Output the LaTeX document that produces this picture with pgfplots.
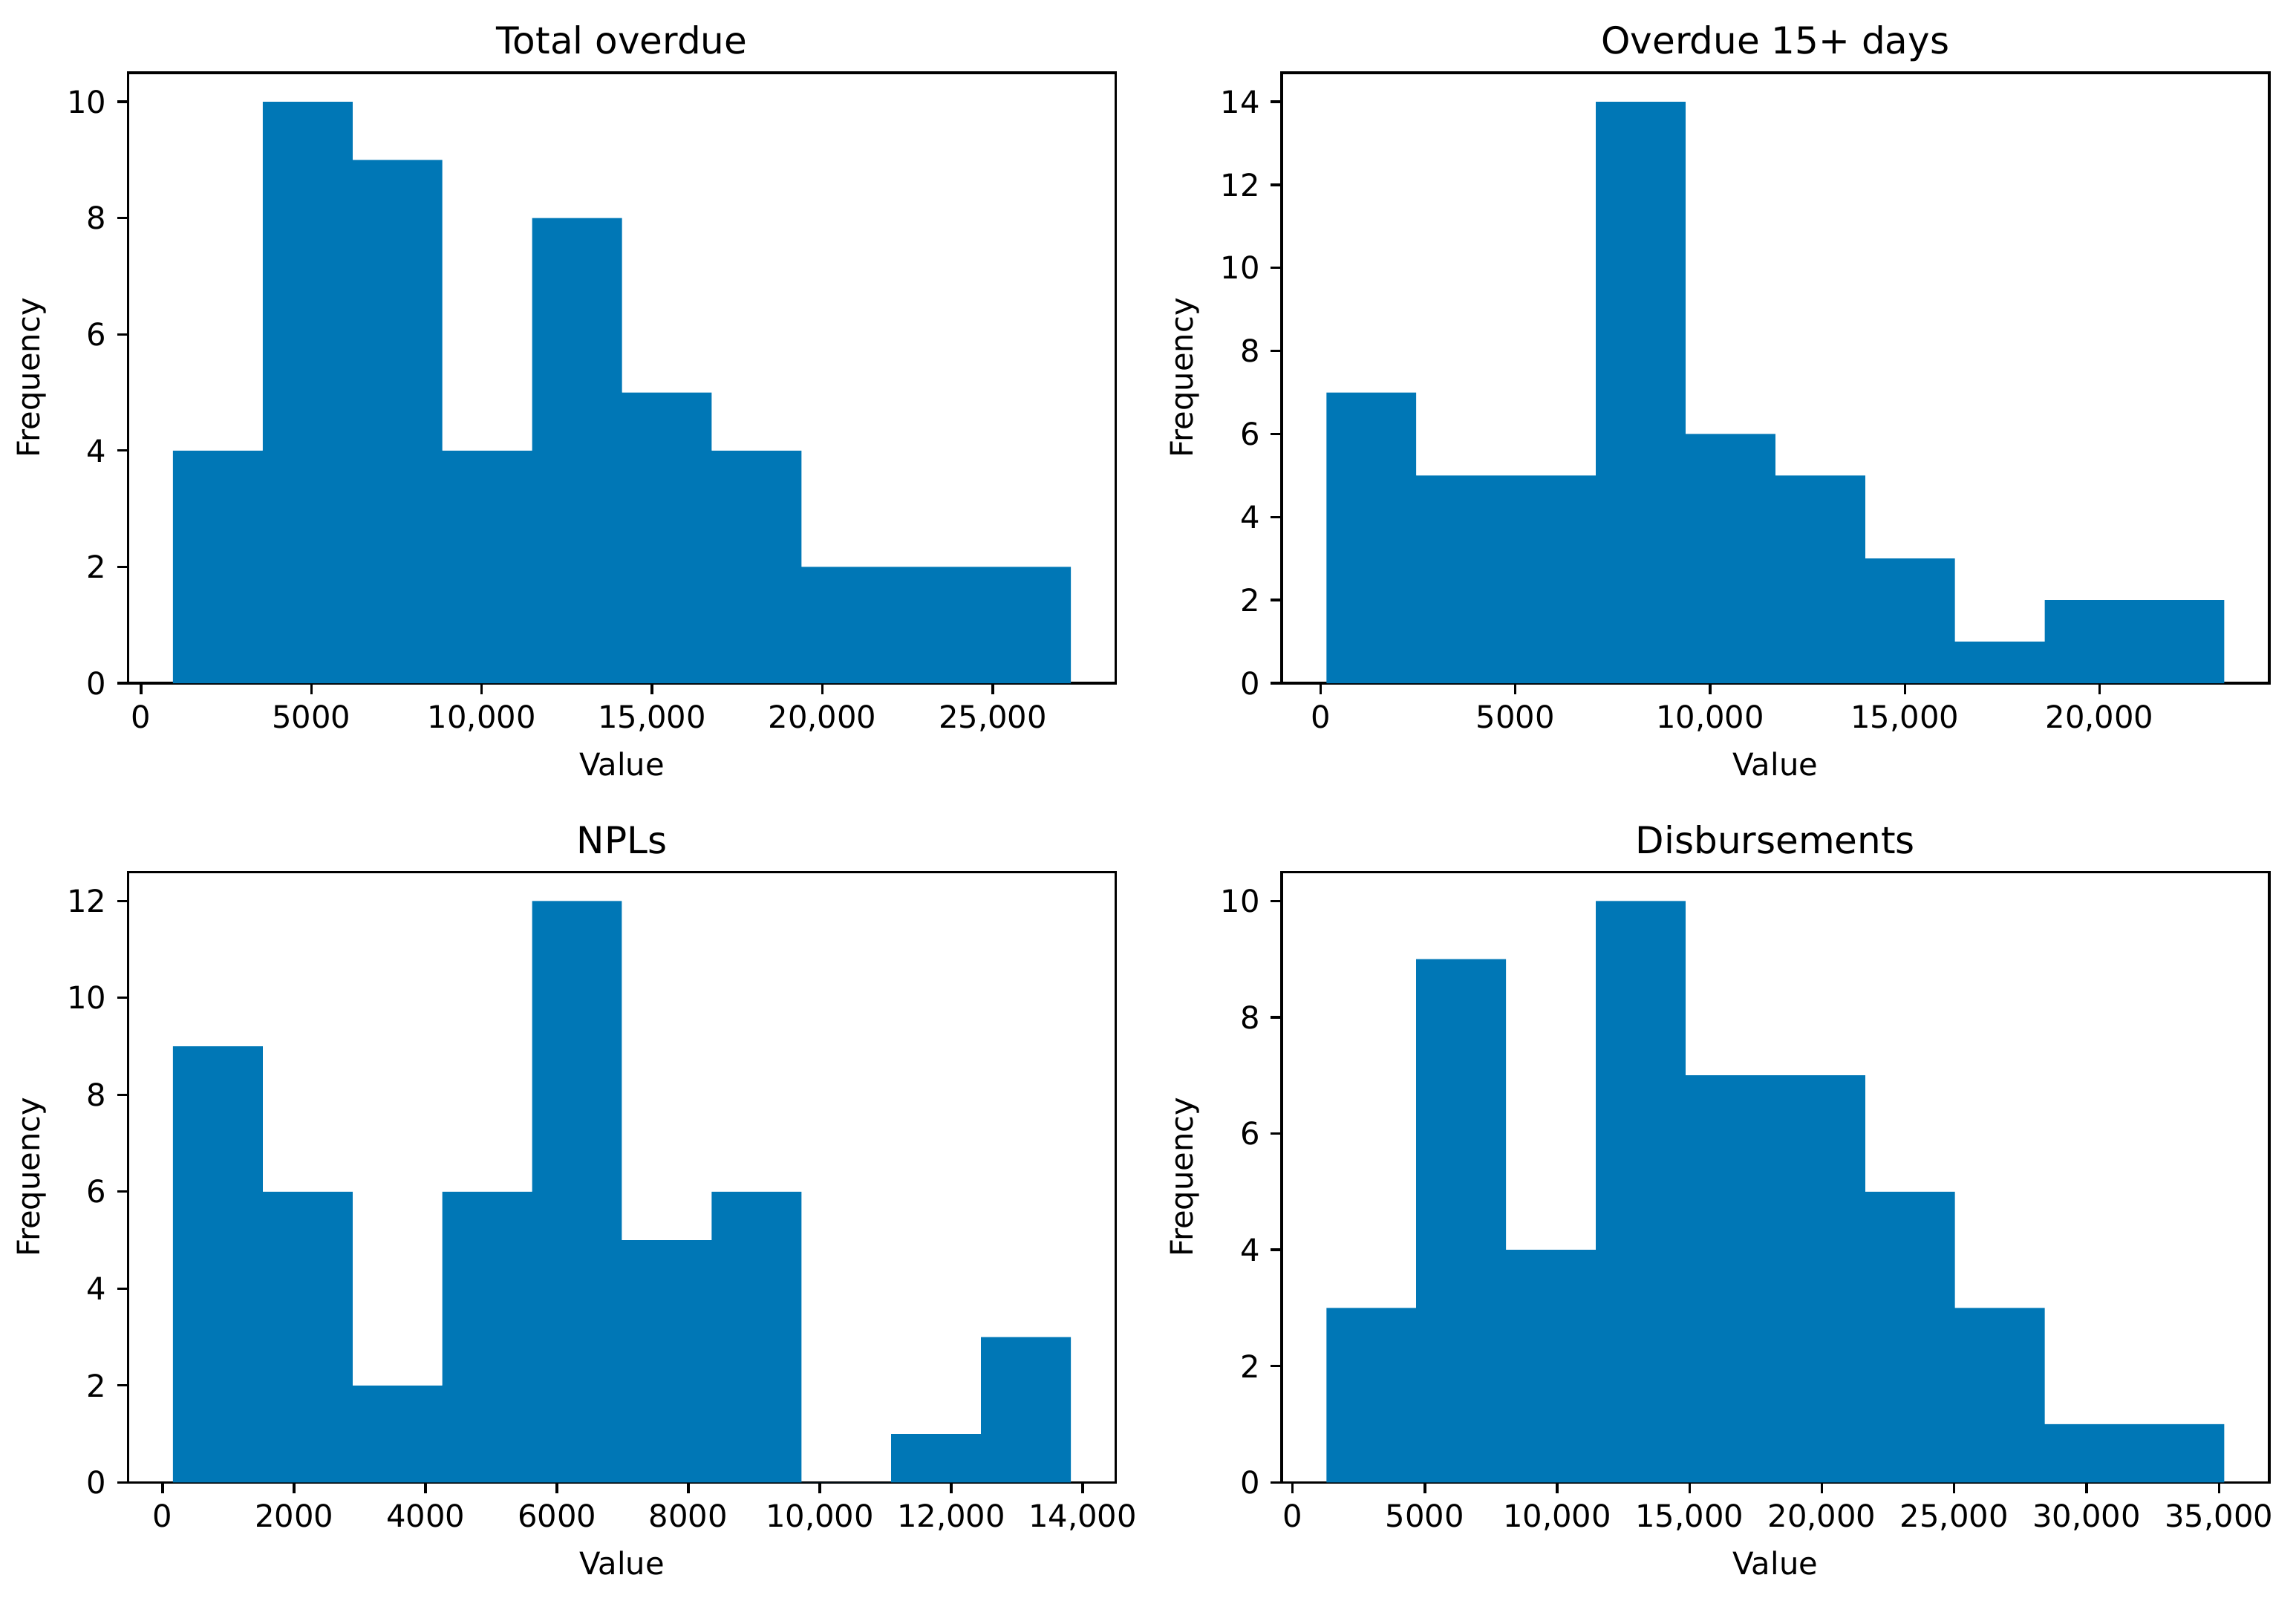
\documentclass[border=0pt]{standalone}
\usepackage{fontspec}
\setmainfont{DejaVu Sans}
\usepackage{pgfplots}
\pgfplotsset{compat=1.18}

\definecolor{histblue}{RGB}{0,119,182}

\pgfplotsset{
  hist/.style={
    scale only axis,
    width=319.2pt, height=197.3pt,
    anchor=north west,
    axis line style={line width=0.8pt, black},
    tick align=outside,
    tick pos=left,
    major tick length=3.5pt,
    every tick/.style={line width=0.8pt, black},
    scaled x ticks=false,
    /pgf/number format/assume math mode=true,
    xticklabel style={/pgf/number format/.cd, 1000 sep={,}, min exponent for 1000 sep=4},
    tick label style={font=\fontsize{10}{12}\selectfont},
    every axis title/.style={at={(axis description cs:0.5,1)}, anchor=base, yshift=6pt, font=\fontsize{12}{14}\selectfont},
    xlabel={Value}, ylabel={Frequency},
    every axis x label/.style={at={(axis description cs:0.5,-0.132)}, anchor=center, font=\fontsize{10}{12}\selectfont},
    every axis y label/.style={at={(axis description cs:-0.098,0.5)}, anchor=center, rotate=90, font=\fontsize{10}{12}\selectfont},
    ymin=0,
  },
  bars/.style={ybar interval, fill=histblue, draw=none},
}

\begin{document}
\begin{tikzpicture}
\path (0,0) rectangle (742.08pt,-516.48pt);

% Total overdue
\begin{axis}[hist, at={(41.4pt,-23.5pt)}, title={Total overdue},
  xmin=-378, xmax=28608, ymax=10.5,
  xtick={0,5000,10000,15000,20000,25000}, ytick={0,2,4,6,8,10}]
\addplot[bars] coordinates {
  (940,4) (3575,10) (6210,9) (8845,4) (11480,8) (14115,5)
  (16750,4) (19385,2) (22020,2) (24655,2) (27290,0)
};
\end{axis}

% Overdue 15+ days
\begin{axis}[hist, at={(414.2pt,-23.5pt)}, title={Overdue 15+ days},
  xmin=-1003, xmax=24353, ymax=14.7,
  xtick={0,5000,10000,15000,20000}, ytick={0,2,4,6,8,10,12,14}]
\addplot[bars] coordinates {
  (150,7) (2455,5) (4760,5) (7065,14) (9370,6) (11675,5)
  (13980,3) (16285,1) (18590,2) (20895,2) (23200,0)
};
\end{axis}

% NPLs
\begin{axis}[hist, at={(41.4pt,-281.8pt)}, title={NPLs},
  xmin=-527, xmax=14504, ymax=12.6,
  xtick={0,2000,4000,6000,8000,10000,12000,14000}, ytick={0,2,4,6,8,10,12}]
\addplot[bars] coordinates {
  (156,9) (1522,6) (2889,2) (4255,6) (5622,12) (6988,5)
  (8355,6) (9721,0) (11088,1) (12454,3) (13821,0)
};
\end{axis}

% Disbursements
\begin{axis}[hist, at={(414.2pt,-281.8pt)}, title={Disbursements},
  xmin=-416, xmax=36896, ymax=10.5,
  xtick={0,5000,10000,15000,20000,25000,30000,35000}, ytick={0,2,4,6,8,10}]
\addplot[bars] coordinates {
  (1280,3) (4672,9) (8064,4) (11456,10) (14848,7) (18240,7)
  (21632,5) (25024,3) (28416,1) (31808,1) (35200,0)
};
\end{axis}
\end{tikzpicture}
\end{document}
